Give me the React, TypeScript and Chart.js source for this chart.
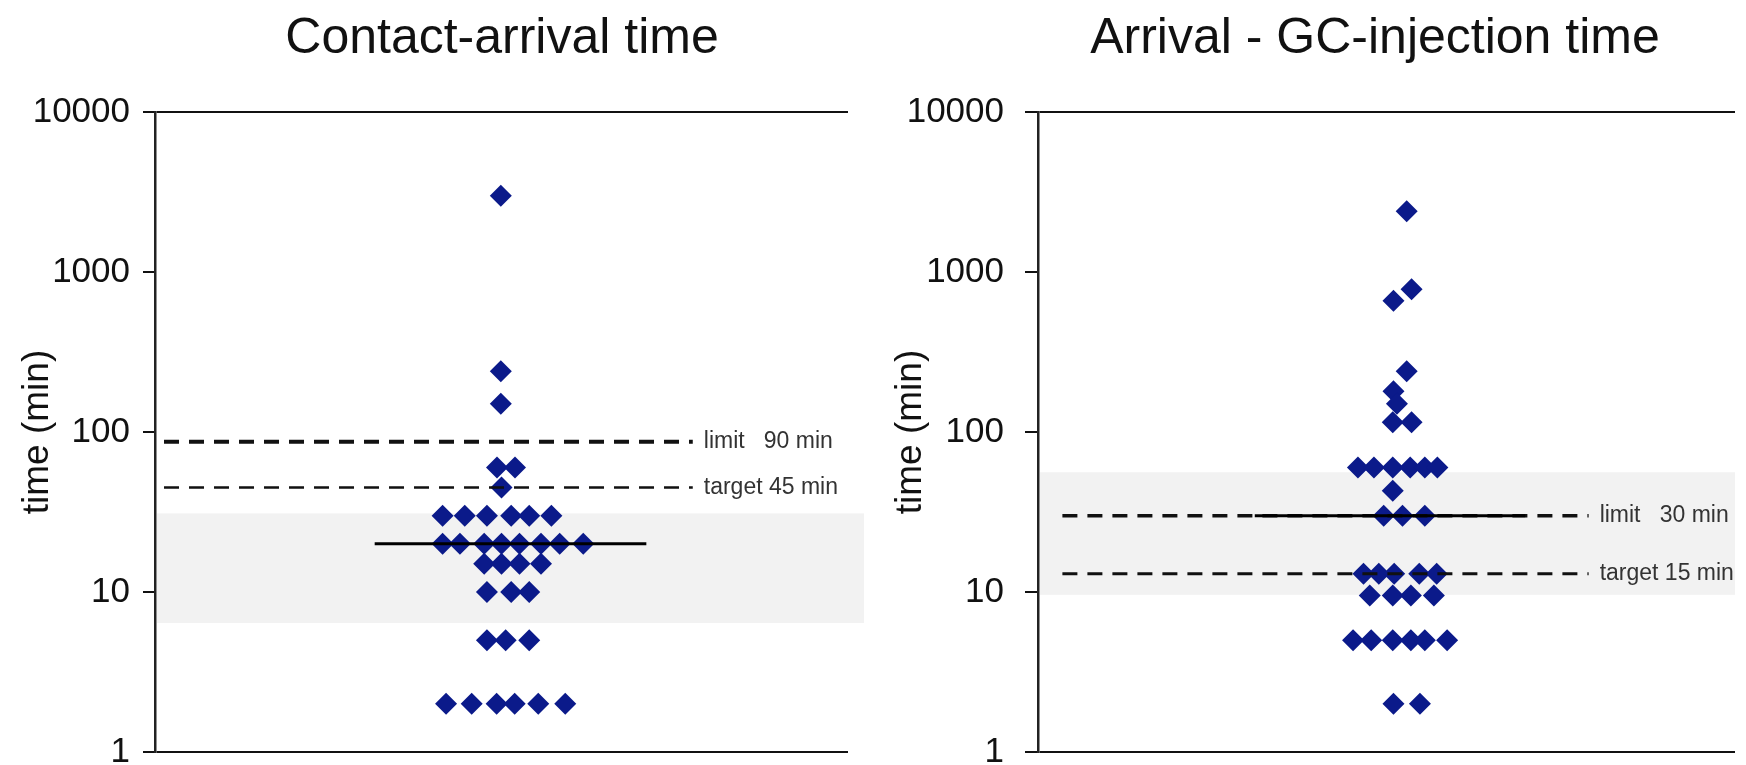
import React, { useEffect, useRef } from "react";
import { Chart, registerables } from "chart.js";

Chart.register(...registerables);

const FONT = '"Liberation Sans", Arial, Helvetica, sans-serif';
const NAVY = "#0b1a8a";

// ---- shared axis data ----
const yTickValues = [1, 10, 100, 1000, 10000];
const axisTitle = "time (min)";
const panelTitles = ["Contact-arrival time", "Arrival - GC-injection time"];

// ---- left panel: Contact-arrival time ----
const leftX = [
  49.9, 49.9, 49.9,
  49.35, 51.95,
  50.0,
  41.5, 44.7, 47.9, 51.4, 54.0, 57.2,
  41.5, 44.0, 47.5, 50.0, 52.6, 55.7, 58.4, 61.8,
  47.5, 50.0, 52.6, 55.7,
  47.9, 51.4, 54.0,
  47.9, 50.6, 54.0,
  42.0, 45.7, 49.3, 51.9, 55.3, 59.2,
];
const leftY = [
  3000, 240, 150,
  60, 60,
  45,
  30, 30, 30, 30, 30, 30,
  20, 20, 20, 20, 20, 20, 20, 20,
  15, 15, 15, 15,
  10, 10, 10,
  5, 5, 5,
  2, 2, 2, 2, 2, 2,
];
const leftMedian = 20;
const leftMedianSpan = [31.7, 70.9];
const leftRefValues = [87, 45];
const leftRefLabels = ["limit   90 min", "target 45 min"];
const leftRefSpan = [1.3, 77.6];
const leftBand = [6.4, 31];

// ---- right panel: Arrival - GC-injection time ----
const rightX = [
  52.9, 53.6, 51.0, 52.9, 51.0, 51.5,
  50.9, 53.6,
  45.9, 48.2, 50.9, 53.4, 55.5, 57.3,
  50.9,
  49.6, 52.3, 55.5,
  46.7, 48.9, 51.1, 54.7, 57.2,
  47.6, 50.9, 53.5, 56.8,
  45.2, 47.8, 50.9, 53.5, 55.5, 58.7,
  51.0, 54.8,
];
const rightY = [
  2400, 780, 660, 240, 180, 150,
  115, 115,
  60, 60, 60, 60, 60, 60,
  43,
  30, 30, 30,
  13, 13, 13, 13, 13,
  9.5, 9.5, 9.5, 9.5,
  5, 5, 5, 5, 5, 5,
  2, 2,
];
const rightMedian = 30;
const rightMedianSpan = [31.1, 69.9];
const rightRefValues = [30, 13];
const rightRefLabels = ["limit   30 min", "target 15 min"];
const rightRefSpan = [3.5, 79.0];
const rightBand = [9.6, 56];

type PanelCfg = {
  title: string;
  xs: number[];
  ys: number[];
  median: number;
  medianSpan: number[];
  refValues: number[];
  refLabels: string[];
  refSpan: number[];
  refWidths: number[];
  band: number[];
  bandExtra: number;
  axisWidth: number;
  padRight: number;
  tickPad: number;
  tickLen: number;
};

function Panel({ cfg, left }: { cfg: PanelCfg; left: number }) {
  const ref = useRef<HTMLCanvasElement | null>(null);

  useEffect(() => {
    if (!ref.current) return;

    const bandPlugin = {
      id: "band",
      beforeDatasetsDraw(chart: any) {
        const { ctx, chartArea, scales } = chart;
        const yHi = scales.y.getPixelForValue(cfg.band[1]);
        const yLo = scales.y.getPixelForValue(cfg.band[0]);
        ctx.save();
        ctx.fillStyle = "#f2f2f2";
        ctx.fillRect(chartArea.left + 2, yHi, chartArea.right + cfg.bandExtra - chartArea.left - 2, yLo - yHi);
        ctx.restore();
      },
    };

    const labelPlugin = {
      id: "refLabels",
      afterDatasetsDraw(chart: any) {
        const { ctx, scales } = chart;
        ctx.save();
        ctx.font = `23px ${FONT}`;
        ctx.fillStyle = "#333";
        ctx.textAlign = "left";
        ctx.textBaseline = "middle";
        cfg.refValues.forEach((v, i) => {
          const x = scales.x.getPixelForValue(cfg.refSpan[1]) + 11;
          const y = scales.y.getPixelForValue(v);
          ctx.fillText(cfg.refLabels[i], x, y);
        });
        ctx.restore();
      },
    };

    const titlePlugin = {
      id: "panelTitle",
      afterDraw(chart: any) {
        const { ctx } = chart;
        ctx.save();
        ctx.font = `50px ${FONT}`;
        ctx.fillStyle = "#111";
        ctx.textAlign = "center";
        ctx.textBaseline = "alphabetic";
        ctx.fillText(cfg.title, 502, 53);
        ctx.restore();
      },
    };

    const datasets: any[] = [
      {
        data: cfg.xs.map((x, i) => ({ x, y: cfg.ys[i] })),
        pointStyle: "rectRot",
        pointRadius: 11,
        pointHoverRadius: 11,
        backgroundColor: NAVY,
        borderColor: NAVY,
        borderWidth: 0,
        order: 3,
      },
      ...cfg.refValues.map((v, i) => ({
        data: [
          { x: cfg.refSpan[0], y: v },
          { x: cfg.refSpan[1], y: v },
        ],
        showLine: true,
        borderColor: "#111",
        borderWidth: cfg.refWidths[i],
        borderDash: [15, 10],
        pointRadius: 0,
        pointHoverRadius: 0,
        order: 2,
      })),
      {
        data: [
          { x: cfg.medianSpan[0], y: cfg.median },
          { x: cfg.medianSpan[1], y: cfg.median },
        ],
        showLine: true,
        borderColor: "#000",
        borderWidth: 3,
        pointRadius: 0,
        pointHoverRadius: 0,
        order: 1,
      },
    ];

    const chart = new Chart(ref.current, {
      type: "scatter",
      data: { datasets },
      options: {
        animation: false,
        responsive: false,
        events: [],
        layout: { padding: { top: 112, bottom: 13, left: 0, right: cfg.padRight } },
        plugins: {
          legend: { display: false },
          tooltip: { enabled: false },
          title: { display: false },
        },
        scales: {
          x: { type: "linear", min: 0, max: 100, display: false },
          y: {
            type: "logarithmic",
            min: 1,
            max: 10000,
            afterBuildTicks: (scale: any) => {
              scale.ticks = yTickValues.map((v) => ({ value: v }));
            },
            afterFit: (scale: any) => {
              scale.width = cfg.axisWidth;
              scale.paddingTop = 0;
              scale.paddingBottom = 0;
            },
            ticks: {
              autoSkip: false,
              padding: cfg.tickPad,
              color: "#111",
              font: { size: 35, family: FONT },
              callback: (v: any) => String(v),
            },
            grid: {
              display: true,
              drawOnChartArea: true,
              drawTicks: true,
              tickLength: cfg.tickLen,
              tickWidth: 2,
              tickColor: "#111",
              color: "#111",
              lineWidth: (ctx: any) =>
                ctx.tick && (ctx.tick.value === 1 || ctx.tick.value === 10000) ? 2 : 0,
            },
            border: { display: true, color: "#222", width: 2.5 },
            title: {
              display: true,
              text: axisTitle,
              color: "#111",
              font: { size: 37, family: FONT },
              padding: { top: 16, bottom: 0 },
            },
          },
        },
      },
      plugins: [bandPlugin, labelPlugin, titlePlugin],
    } as any);

    return () => chart.destroy();
  }, [cfg]);

  return (
    <canvas
      ref={ref}
      width={873}
      height={765}
      style={{ position: "absolute", left, top: 0, width: 873, height: 765, display: "block" }}
    />
  );
}

const leftCfg: PanelCfg = {
  title: panelTitles[0],
  xs: leftX,
  ys: leftY,
  median: leftMedian,
  medianSpan: leftMedianSpan,
  refValues: leftRefValues,
  refLabels: leftRefLabels,
  refSpan: leftRefSpan,
  refWidths: [4, 2.5],
  band: leftBand,
  bandExtra: 16,
  axisWidth: 155,
  padRight: 25,
  tickPad: 13,
  tickLen: 12,
};

const rightCfg: PanelCfg = {
  title: panelTitles[1],
  xs: rightX,
  ys: rightY,
  median: rightMedian,
  medianSpan: rightMedianSpan,
  refValues: rightRefValues,
  refLabels: rightRefLabels,
  refSpan: rightRefSpan,
  refWidths: [3.5, 3],
  band: rightBand,
  bandExtra: 0,
  axisWidth: 165,
  padRight: 0,
  tickPad: 21,
  tickLen: 13,
};

export default function App() {
  return (
    <div
      style={{
        position: "absolute",
        left: 0,
        top: 0,
        width: 1746,
        height: 765,
        background: "#fff",
        overflow: "hidden",
      }}
    >
      <Panel cfg={leftCfg} left={0} />
      <Panel cfg={rightCfg} left={873} />
    </div>
  );
}
